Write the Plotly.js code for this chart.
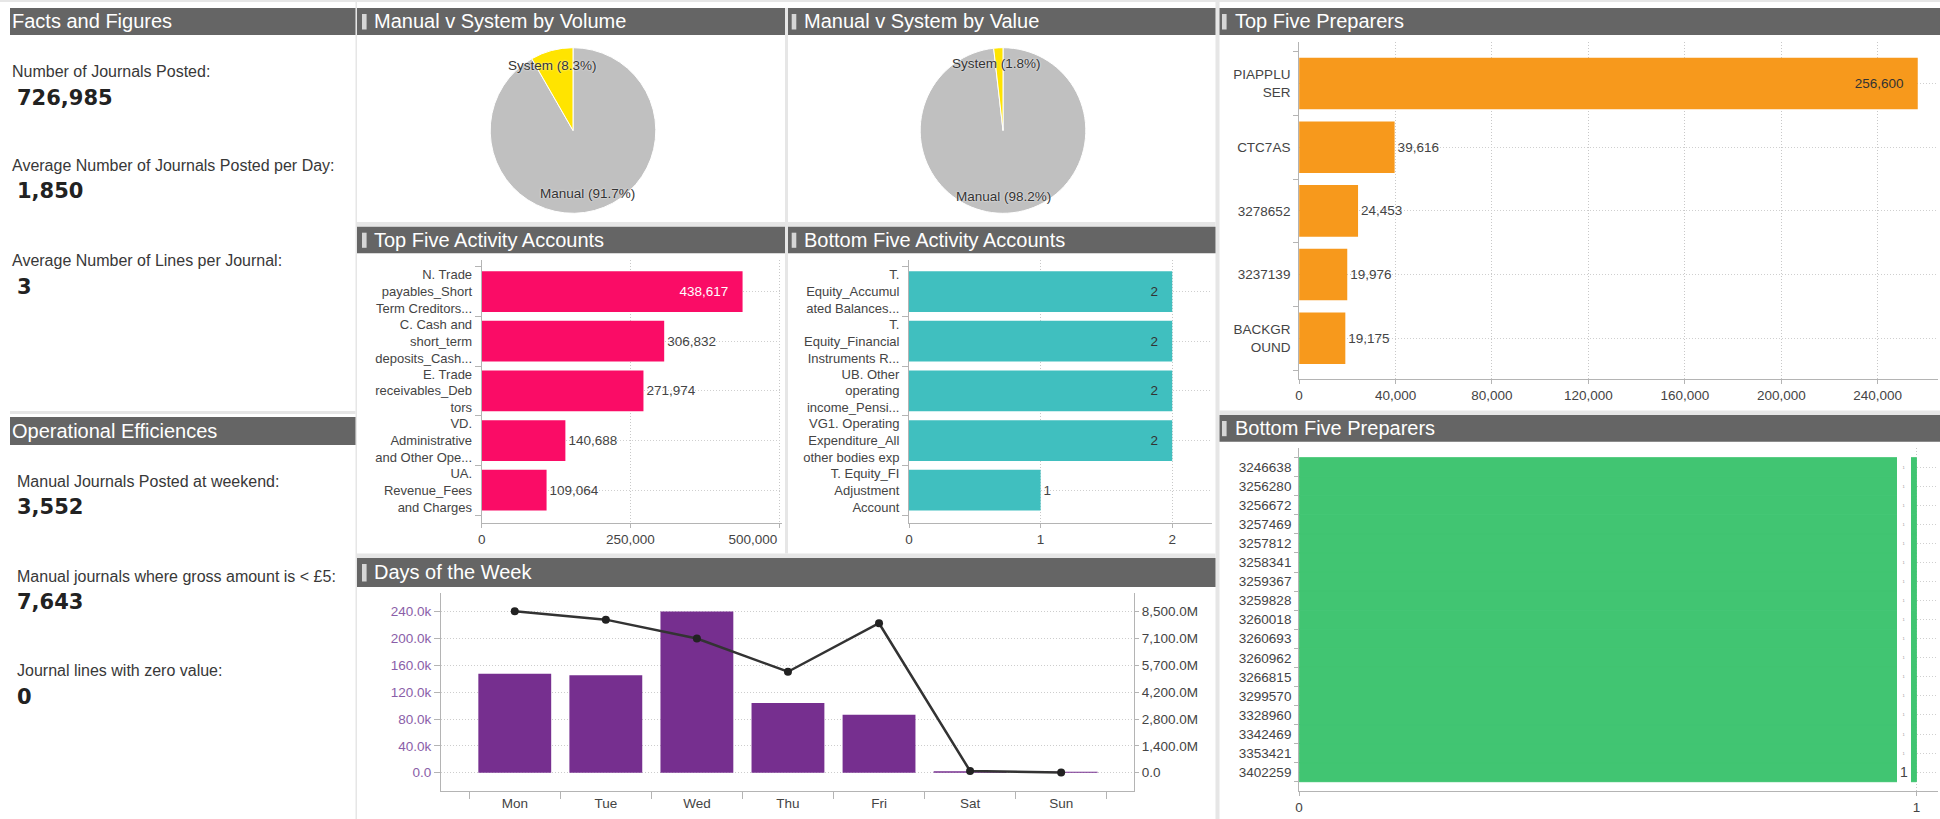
<!DOCTYPE html>
<html><head><meta charset="utf-8">
<script src="https://cdn.plot.ly/plotly-3.0.1.min.js"></script>
<style>html,body{margin:0;padding:0;background:#fff;overflow:hidden}#chart{width:1940px;height:819px}</style>
</head><body><div id="chart"></div>
<script>
// ---------------- Data ----------------
const factLabels = ['Number of Journals Posted:', 'Average Number of Journals Posted per Day:', 'Average Number of Lines per Journal:'];
const factValues = [726985, 1850, 3];
const effLabels = ['Manual Journals Posted at weekend:', 'Manual journals where gross amount is < £5:', 'Journal lines with zero value:'];
const effValues = [3552, 7643, 0];

const pieLabels = ['System', 'Manual'];
const volumeShares = [8.3, 91.7];
const valueShares = [1.8, 98.2];

const topAccounts = ['N. Trade<br>payables_Short<br>Term Creditors...', 'C. Cash and<br>short_term<br>deposits_Cash...', 'E. Trade<br>receivables_Deb<br>tors', 'VD.<br>Administrative<br>and Other Ope...', 'UA.<br>Revenue_Fees<br>and Charges'];
const topAccountCounts = [438617, 306832, 271974, 140688, 109064];

const bottomAccounts = ['T.<br>Equity_Accumul<br>ated Balances...', 'T.<br>Equity_Financial<br>Instruments R...', 'UB. Other<br>operating<br>income_Pensi...', 'VG1. Operating<br>Expenditure_All<br>other bodies exp', 'T. Equity_FI<br>Adjustment<br>Account'];
const bottomAccountCounts = [2, 2, 2, 2, 1];

const days = ['Mon', 'Tue', 'Wed', 'Thu', 'Fri', 'Sat', 'Sun'];
const dayJournalCounts = [147600, 145300, 240200, 104000, 86200, 2300, 1400];
const dayValuesM = [8520, 8080, 7080, 5330, 7890, 90, 5];
const countTicks = [0, 40000, 80000, 120000, 160000, 200000, 240000];
const countTickLabels = ['0.0', '40.0k', '80.0k', '120.0k', '160.0k', '200.0k', '240.0k'];
const valueTickLabels = ['0.0', '1,400.0M', '2,800.0M', '4,200.0M', '5,700.0M', '7,100.0M', '8,500.0M'];

const topPreparers = ['PIAPPLU<br>SER', 'CTC7AS', '3278652', '3237139', 'BACKGR<br>OUND'];
const topPreparerCounts = [256600, 39616, 24453, 19976, 19175];

const bottomPreparers = ['3246638', '3256280', '3256672', '3257469', '3257812', '3258341', '3259367', '3259828', '3260018', '3260693', '3260962', '3266815', '3299570', '3328960', '3342469', '3353421', '3402259'];
const bottomPreparerCounts = [1, 1, 1, 1, 1, 1, 1, 1, 1, 1, 1, 1, 1, 1, 1, 1, 1];

// ---------------- Layout helpers ----------------
const W = 1940, H = 819;
const FONT = 'Liberation Sans, Arial, sans-serif';
const dx = (a, b) => [a / W, b / W];
const dy = (top, bottom) => [1 - bottom / H, 1 - top / H];
const PX = x => x / W, PY = y => 1 - y / H;
const fmt = v => v.toLocaleString('en-US');
const idx = arr => arr.map((_, i) => i);
const NB = n => '\u00a0'.repeat(n);
const DOT = '1px,2px';

const shapes = [];
const annotations = [];
function rect(x0, y0, x1, y1, color) {
  shapes.push({type: 'rect', xref: 'paper', yref: 'paper', x0: PX(x0), x1: PX(x1), y0: PY(y1), y1: PY(y0),
    fillcolor: color, line: {width: 0}, layer: 'below'});
}
function header(x0, y0, x1, y1, title, markerX, textX) {
  rect(x0, y0, x1, y1, '#656565');
  if (markerX !== null) rect(markerX, y0 + 6, markerX + 4.6, y1 - 5.5, '#d6d6d6');
  annotations.push({xref: 'paper', yref: 'paper', x: PX(textX), y: PY((y0 + y1) / 2 - 0.3), xanchor: 'left', yanchor: 'middle',
    text: title, showarrow: false, font: {family: FONT, size: 20, color: '#ffffff'}});
}

// separators
const SEP = '#e6e6e6';
rect(0, 0, W, 2, SEP);
rect(355.5, 0, 357, H, SEP);
rect(785, 8, 788, 553.5, SEP);
rect(1215.5, 0, 1219.5, H, SEP);
rect(357, 222, 1215.5, 226.7, SEP);
rect(357, 553.5, 1215.5, 558, SEP);
rect(1219.5, 410.5, W, 415, SEP);
rect(10, 411, 355.5, 414, SEP);

// headers
header(10, 8, 355.5, 35, 'Facts and Figures', null, 10);
header(10, 417, 355.5, 445, 'Operational Efficiences', null, 10);
header(357, 8, 785, 35, 'Manual v System by Volume', 362, 372);
header(788, 8, 1215.5, 35, 'Manual v System by Value', 791.7, 801.7);
header(357, 226.7, 785, 253.3, 'Top Five Activity Accounts', 362, 371.7);
header(788, 226.7, 1215.5, 253.3, 'Bottom Five Activity Accounts', 791.7, 801.7);
header(357, 558, 1215.5, 587, 'Days of the Week', 362, 371.5);
header(1219.5, 8, W, 35, 'Top Five Preparers', 1222, 1232.6);
header(1219.5, 415, W, 441.7, 'Bottom Five Preparers', 1222, 1232.6);

// KPI texts
function kpi(labels, values, labelX, labelYs, valueYs) {
  labels.forEach((l, i) => {
    annotations.push({xref: 'paper', yref: 'paper', x: PX(labelX), y: PY(labelYs[i]), xanchor: 'left', yanchor: 'middle',
      text: l, showarrow: false, font: {family: FONT, size: 16, color: '#383838'}});
    annotations.push({xref: 'paper', yref: 'paper', x: PX(15), y: PY(valueYs[i]), xanchor: 'left', yanchor: 'middle',
      text: fmt(values[i]), showarrow: false, font: {family: 'DejaVu Sans, Verdana, sans-serif', size: 21, weight: 'bold', color: '#222222'}});
  });
}
kpi(factLabels, factValues, 10, [71.7, 166, 260], [97.7, 191.3, 286.7]);
kpi(effLabels, effValues, 14.5, [481, 576.5, 670.5], [507, 601.7, 696.7]);

// pie labels
function pieLabel(x, y, label, share) {
  annotations.push({xref: 'paper', yref: 'paper', x: PX(x), y: PY(y), xanchor: 'center', yanchor: 'middle',
    text: label + ' (' + share.toFixed(1) + '%)', showarrow: false,
    font: {family: FONT, size: 13.5, color: '#333333', shadow: '0px 0px 2px #ffffff'}});
}
pieLabel(552, 65.7, pieLabels[0], volumeShares[0]);
pieLabel(587, 193, pieLabels[1], volumeShares[1]);
pieLabel(996.7, 63.3, pieLabels[0], valueShares[0]);
pieLabel(1003.3, 196.7, pieLabels[1], valueShares[1]);

// bottom preparers value labels (white label strip at bar ends)
bottomPreparerCounts.forEach((v, i) => {
  const last = i === bottomPreparerCounts.length - 1;
  annotations.push({xref: 'x6', yref: 'y6', x: v, y: i, xanchor: 'right', yanchor: 'middle', xshift: -5.3,
    width: 14, height: 20.5, bgcolor: '#ffffff', borderpad: 0, borderwidth: 0, showarrow: false, align: 'center',
    text: String(v), font: {family: FONT, size: last ? 14 : 4, color: last ? '#444' : '#999'}});
});

// ---------------- Axis styles ----------------
const TF = {family: FONT, size: 13.5, color: '#444444'};
const CF = {family: FONT, size: 13, color: '#444444'};
const AXC = '#b4b4b4';
function valueAxis(domain, anchor, range, tickvals, ticktext) {
  return {domain, anchor, range, tickmode: 'array', tickvals, ticktext, showgrid: true, gridcolor: '#c8c8c8', griddash: DOT,
    zeroline: false, showline: true, linecolor: AXC, ticks: 'outside', ticklen: 4, tickcolor: AXC, tickfont: TF, fixedrange: true};
}
function catAxis(domain, anchor, range, labels, ticklen, font) {
  return {domain, anchor, range, tickmode: 'array', tickvals: idx(labels), ticktext: labels, showgrid: true, gridcolor: '#cfcfcf',
    griddash: DOT, zeroline: false, showline: true, linecolor: AXC, ticks: 'outside', ticklen: ticklen, tickcolor: 'rgba(0,0,0,0)',
    minor: {tick0: 0.5, dtick: 1, ticks: 'outside', ticklen: ticklen, tickcolor: AXC, showgrid: false},
    tickfont: font || TF, fixedrange: true};
}
function barText(vals, frac) {
  const mx = Math.max(...vals);
  return {
    text: vals.map(v => v >= frac * mx ? fmt(v) + NB(3) : fmt(v)),
    pos: vals.map(v => v >= frac * mx ? 'inside' : 'outside')
  };
}

const tA = barText(topAccountCounts, 0.9);
const bA = barText(bottomAccountCounts, 0.9);
const tP = barText(topPreparerCounts, 0.9);

const topAccTicks = [0, 250000, 500000];
const prepTicks = [0, 40000, 80000, 120000, 160000, 200000, 240000];
const rightTicks = countTicks.map(v => v / countTicks[countTicks.length - 1] * 8500);
const leftRange = [-27300, 267400];
const rightRange = leftRange.map(v => v / countTicks[countTicks.length - 1] * 8500);

// pies drawn clockwise from 12 o'clock with the Manual slice first so the System wedge sits left of 12
const pieColors = {System: '#ffe400', Manual: '#c0c0c0'};
function pieTrace(shares, domainX) {
  const order = [1, 0];
  return {type: 'pie', labels: order.map(i => pieLabels[i]), values: order.map(i => shares[i]), sort: false,
    direction: 'clockwise', rotation: 0, textinfo: 'none', hoverinfo: 'skip',
    marker: {colors: order.map(i => pieColors[pieLabels[i]]), line: {color: '#ffffff', width: 1}},
    domain: {x: domainX, y: dy(47.7, 213.3)}};
}

const data = [
  pieTrace(volumeShares, dx(490, 656)),
  pieTrace(valueShares, dx(920, 1086)),
  {type: 'bar', orientation: 'h', x: topAccountCounts, y: idx(topAccounts), xaxis: 'x', yaxis: 'y', width: 0.82,
   marker: {color: '#fa0c66'}, text: tA.text, textposition: tA.pos, insidetextanchor: 'end', constraintext: 'none',
   insidetextfont: {family: FONT, size: 13.5, color: '#ffffff'}, outsidetextfont: {family: FONT, size: 13.5, color: '#444'}, hoverinfo: 'skip'},
  {type: 'bar', orientation: 'h', x: bottomAccountCounts, y: idx(bottomAccounts), xaxis: 'x2', yaxis: 'y2', width: 0.82,
   marker: {color: '#40bfbf'}, text: bA.text, textposition: bA.pos, insidetextanchor: 'end', constraintext: 'none',
   insidetextfont: {family: FONT, size: 13.5, color: '#333'}, outsidetextfont: {family: FONT, size: 13.5, color: '#444'}, hoverinfo: 'skip'},
  {type: 'bar', x: days, y: dayJournalCounts, xaxis: 'x3', yaxis: 'y3', width: 0.8, marker: {color: '#762f8f'}, hoverinfo: 'skip'},
  {type: 'scatter', mode: 'lines+markers', x: days, y: dayValuesM, xaxis: 'x3', yaxis: 'y4',
   line: {color: '#333333', width: 2.5}, marker: {color: '#222222', size: 8}, hoverinfo: 'skip'},
  {type: 'bar', orientation: 'h', x: topPreparerCounts, y: idx(topPreparers), xaxis: 'x5', yaxis: 'y5', width: 0.81,
   marker: {color: '#f7991c'}, text: tP.text, textposition: tP.pos, insidetextanchor: 'end', constraintext: 'none',
   insidetextfont: {family: FONT, size: 13.5, color: '#333'}, outsidetextfont: {family: FONT, size: 13.5, color: '#444'}, hoverinfo: 'skip'},
  {type: 'bar', orientation: 'h', x: bottomPreparerCounts, y: idx(bottomPreparers), xaxis: 'x6', yaxis: 'y6', width: 1,
   marker: {color: '#41c572', line: {color: '#41c572', width: 1}}, hoverinfo: 'skip'}
];

const layout = {
  width: W, height: H, margin: {l: 0, r: 0, t: 0, b: 0, pad: 0},
  paper_bgcolor: '#ffffff', plot_bgcolor: 'rgba(0,0,0,0)', showlegend: false, hovermode: false,
  font: {family: FONT, color: '#444'},
  shapes, annotations,
  // Top five activity accounts
  xaxis: valueAxis(dx(481.7, 781.7), 'y', [0, 504400], topAccTicks,
    topAccTicks.map((v, i) => i === topAccTicks.length - 1 ? fmt(v) + NB(14) : fmt(v))),
  yaxis: catAxis(dy(260, 523), 'x', [4.66, -0.635], topAccounts, 6, CF),
  // Bottom five activity accounts
  xaxis2: valueAxis(dx(909, 1211.7), 'y2', [0, 2.3], [0, 1, 2], ['0', '1', '2']),
  yaxis2: catAxis(dy(260, 523), 'x2', [4.66, -0.635], bottomAccounts, 6, CF),
  // Days of the week
  xaxis3: {domain: dx(441, 1134), anchor: 'y3', type: 'category', categoryorder: 'array', categoryarray: days,
    range: [-0.81, 6.8], tickson: 'boundaries', ticks: 'outside', ticklen: 7, tickcolor: AXC, showline: true, linecolor: AXC,
    showgrid: false, zeroline: false, tickfont: TF, fixedrange: true},
  yaxis3: {domain: dy(593.3, 791), anchor: 'x3', range: leftRange, tickmode: 'array', tickvals: countTicks, ticktext: countTickLabels,
    showgrid: true, gridcolor: '#cdcdcd', griddash: DOT, zeroline: false, showline: true, linecolor: AXC, ticks: 'outside',
    ticklen: 6, tickcolor: AXC, tickfont: {family: FONT, size: 13.5, color: '#8a5ea8'}, fixedrange: true},
  yaxis4: {overlaying: 'y3', side: 'right', anchor: 'x3', range: rightRange, tickmode: 'array', tickvals: rightTicks, ticktext: valueTickLabels,
    showgrid: false, zeroline: false, showline: true, linecolor: AXC, ticks: 'outside', ticklen: 4, tickcolor: AXC,
    tickfont: TF, fixedrange: true},
  // Top five preparers
  xaxis5: valueAxis(dx(1299.1, 1938), 'y5', [0, 265000], prepTicks, prepTicks.map(fmt)),
  yaxis5: catAxis(dy(41.7, 379), 'x5', [4.64, -0.657], topPreparers, 5),
  // Bottom five preparers
  xaxis6: valueAxis(dx(1299.1, 1938), 'y6', [0, 1.035], [0, 1], ['0', '1']),
  yaxis6: catAxis(dy(448.3, 791), 'x6', [16.988, -0.993], bottomPreparers, 4)
};

Plotly.newPlot('chart', data, layout, {staticPlot: true, displayModeBar: false});
</script></body></html>
